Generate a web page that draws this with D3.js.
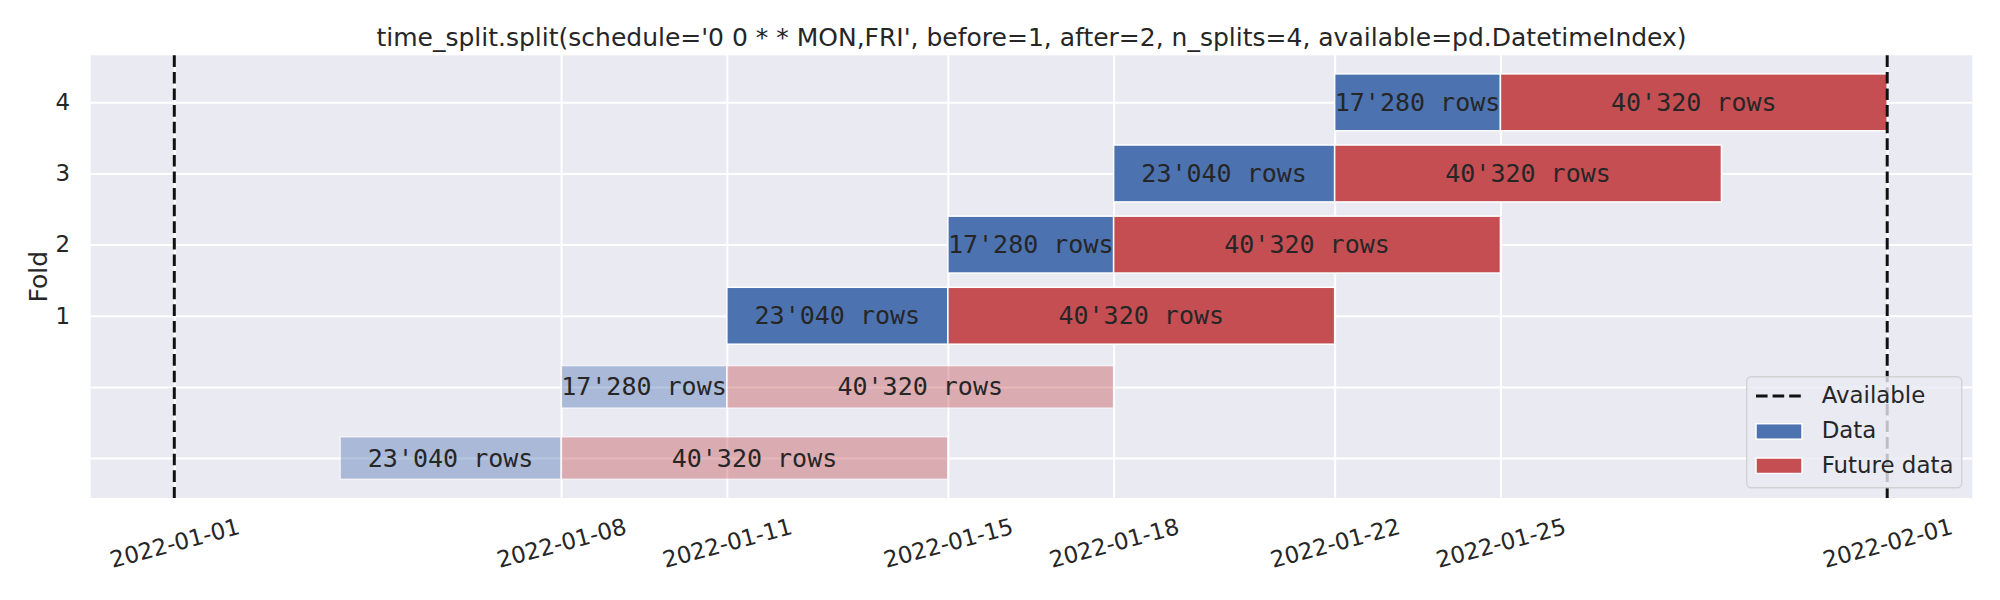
<!DOCTYPE html>
<html>
<head>
<meta charset="utf-8">
<script src="https://cdn.jsdelivr.net/npm/d3@7"></script>
<style>
  body { margin: 0; background: #fff; }
  text { font-family: "DejaVu Sans", sans-serif; fill: #262626; }
</style>
</head>
<body>
<div id="chart"></div>
<script>
// folds, -1 and 0 are the faded (incomplete) ones
var folds = [-1, 0, 1, 2, 3, 4];
var dataStart = ["2022-01-04", "2022-01-08", "2022-01-11", "2022-01-15", "2022-01-18", "2022-01-22"];
var dataEnd = ["2022-01-08", "2022-01-11", "2022-01-15", "2022-01-18", "2022-01-22", "2022-01-25"];
var futureEnd = ["2022-01-15", "2022-01-18", "2022-01-22", "2022-01-25", "2022-01-29", "2022-02-01"];
var dataRows = [23040, 17280, 23040, 17280, 23040, 17280];
var futureRows = [40320, 40320, 40320, 40320, 40320, 40320];
var faded = [true, true, false, false, false, false];
var available = ["2022-01-01", "2022-02-01"];
var xTicks = ["2022-01-01", "2022-01-08", "2022-01-11", "2022-01-15", "2022-01-18", "2022-01-22", "2022-01-25", "2022-02-01"];
var yTicks = [1, 2, 3, 4];
var yGrid = [-1, 0, 1, 2, 3, 4];
var legendLabels = ["Available", "Data", "Future data"];
var title = "time_split.split(schedule='0 0 * * MON,FRI', before=1, after=2, n_splits=4, available=pd.DatetimeIndex)";

function init() {
  var w = 2000;
  var h = 600;
  var left = 90.7, right = 1972.3, top = 55.3, bottom = 498;
  var day = 864e5;
  var blue = "#4C72B0", red = "#C44E52";

  var fmt = d3.formatLocale({decimal: ".", thousands: "'", grouping: [3], currency: ["", ""]}).format(",");

  var t0 = new Date("2022-01-01").getTime();
  var xScale = d3.scaleUtc()
    .domain([new Date(t0 - 1.513 * day), new Date(t0 + 32.54 * day)])
    .range([left, right]);
  var yScale = d3.scaleLinear()
    .domain([-1.562, 4.661])
    .range([bottom, top]);

  var svg = d3.select("#chart").append("svg")
    .attr("width", w)
    .attr("height", h);

  svg.append("rect")
    .attr("x", left).attr("y", top)
    .attr("width", right - left).attr("height", bottom - top)
    .attr("fill", "#EAEAF2");

  // grid
  var xGridAxis = d3.axisBottom(xScale)
    .tickValues(xTicks.map(function(d) { return new Date(d); }))
    .tickSize(-(bottom - top))
    .tickFormat("");
  svg.append("g")
    .attr("transform", "translate(0," + bottom + ")")
    .call(xGridAxis)
    .call(function(g) {
      g.select(".domain").remove();
      g.selectAll("line").attr("stroke", "#fff").attr("stroke-width", 2);
    });

  var yGridAxis = d3.axisLeft(yScale)
    .tickValues(yGrid)
    .tickSize(-(right - left))
    .tickFormat("");
  svg.append("g")
    .attr("transform", "translate(" + left + ",0)")
    .call(yGridAxis)
    .call(function(g) {
      g.select(".domain").remove();
      g.selectAll("line").attr("stroke", "#fff").attr("stroke-width", 2);
    });

  // bars
  var rows = folds.map(function(f, i) {
    return {
      fold: f, faded: faded[i],
      segs: [
        {x0: new Date(dataStart[i]), x1: new Date(dataEnd[i]), n: dataRows[i], c: blue},
        {x0: new Date(dataEnd[i]), x1: new Date(futureEnd[i]), n: futureRows[i], c: red}
      ]
    };
  });

  var segs = [];
  rows.forEach(function(r) {
    r.segs.forEach(function(s) {
      segs.push({fold: r.fold, faded: r.faded, x0: s.x0, x1: s.x1, n: s.n, c: s.c});
    });
  });

  svg.selectAll("rect.bar")
    .data(segs)
    .enter()
    .append("rect")
    .attr("class", "bar")
    .attr("x", function(d) { return xScale(d.x0); })
    .attr("width", function(d) { return xScale(d.x1) - xScale(d.x0); })
    .attr("y", function(d) {
      var hh = d.faded ? 0.6 : 0.8;
      return yScale(d.fold + hh / 2);
    })
    .attr("height", function(d) {
      var hh = d.faded ? 0.6 : 0.8;
      return yScale(d.fold - hh / 2) - yScale(d.fold + hh / 2);
    })
    .attr("fill", function(d) { return d.c; })
    .attr("stroke", "#fff")
    .attr("stroke-width", 1.5)
    .attr("opacity", function(d) { return d.faded ? 0.4 : 1; });

  svg.selectAll("text.bar-label")
    .data(segs)
    .enter()
    .append("text")
    .attr("class", "bar-label")
    .attr("x", function(d) { return (xScale(d.x0) + xScale(d.x1)) / 2; })
    .attr("y", function(d) { return yScale(d.fold); })
    .attr("text-anchor", "middle")
    .attr("dominant-baseline", "central")
    .style("font-family", "'DejaVu Sans Mono', monospace")
    .style("font-size", "25px")
    .text(function(d) { return fmt(d.n) + " rows"; });

  // available lines
  svg.selectAll("line.avail")
    .data(available)
    .enter()
    .append("line")
    .attr("class", "avail")
    .attr("x1", function(d) { return xScale(new Date(d)); })
    .attr("x2", function(d) { return xScale(new Date(d)); })
    .attr("y1", top)
    .attr("y2", bottom)
    .attr("stroke", "#111")
    .attr("stroke-width", 3)
    .attr("stroke-dasharray", "11.6,5");

  // axes labels
  var xAxis = d3.axisBottom(xScale)
    .tickValues(xTicks.map(function(d) { return new Date(d); }))
    .tickSize(0)
    .tickFormat(d3.utcFormat("%Y-%m-%d"));
  svg.append("g")
    .attr("transform", "translate(0," + bottom + ")")
    .call(xAxis)
    .call(function(g) {
      g.select(".domain").remove();
      g.selectAll("text")
        .attr("y", null)
        .attr("dy", null)
        .attr("fill", "#262626")
        .attr("dominant-baseline", "central")
        .attr("text-anchor", "middle")
        .attr("transform", "translate(0,45) rotate(-15)")
        .style("font-family", "'DejaVu Sans', sans-serif")
        .style("font-size", "22.9px");
    });

  var yAxis = d3.axisLeft(yScale)
    .tickValues(yTicks)
    .tickSize(0)
    .tickPadding(20.7)
    .tickFormat(d3.format("d"));
  svg.append("g")
    .attr("transform", "translate(" + left + ",0)")
    .call(yAxis)
    .call(function(g) {
      g.select(".domain").remove();
      g.selectAll("text")
        .attr("fill", "#262626")
        .style("font-family", "'DejaVu Sans', sans-serif")
        .style("font-size", "22.9px");
    });

  svg.append("text")
    .attr("transform", "translate(46.5," + ((top + bottom) / 2) + ") rotate(-90)")
    .attr("text-anchor", "middle")
    .style("font-size", "25px")
    .text("Fold");

  svg.append("text")
    .attr("x", (left + right) / 2)
    .attr("y", 45.5)
    .attr("text-anchor", "middle")
    .style("font-size", "25px")
    .text(title);

  // legend
  var lg = svg.append("g").attr("transform", "translate(1746.7,376.7)");
  lg.append("rect")
    .attr("width", 215)
    .attr("height", 111)
    .attr("rx", 4.5)
    .attr("fill", "#EAEAF2")
    .attr("fill-opacity", 0.8)
    .attr("stroke", "#ccc")
    .attr("stroke-opacity", 0.8)
    .attr("stroke-width", 1.4);
  lg.append("line")
    .attr("x1", 9.3).attr("x2", 55)
    .attr("y1", 19.3).attr("y2", 19.3)
    .attr("stroke", "#111")
    .attr("stroke-width", 3)
    .attr("stroke-dasharray", "11.6,5");
  [blue, red].forEach(function(c, i) {
    lg.append("rect")
      .attr("x", 9.3).attr("y", 47 + i * 34.3)
      .attr("width", 46).attr("height", 15.5)
      .attr("fill", c)
      .attr("stroke", "#fff")
      .attr("stroke-width", 1.5);
  });
  lg.selectAll("text.leg")
    .data(legendLabels)
    .enter()
    .append("text")
    .attr("class", "leg")
    .attr("x", 75)
    .attr("y", function(d, i) { return 26.7 + i * 34.7; })
    .style("font-size", "22.9px")
    .text(function(d) { return d; });
}

window.onload = init;
</script>
</body>
</html>
